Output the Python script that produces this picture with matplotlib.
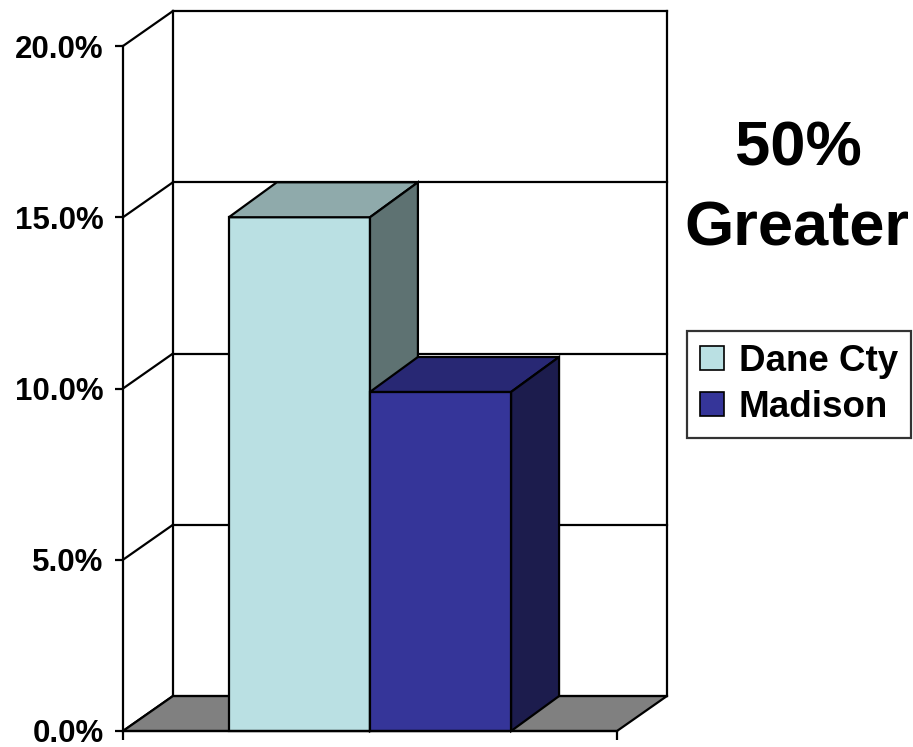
import matplotlib
matplotlib.use("Agg")
import matplotlib.pyplot as plt
from matplotlib.patches import Polygon, Patch

# ========== data ==========
series = ["Dane Cty", "Madison"]
values = [15.0, 9.9]            # percent
yticks = [0, 5, 10, 15, 20]
front_colors = ["#BAE0E3", "#353599"]
top_colors = ["#8FAAAB", "#282874"]
side_colors = ["#5E7272", "#1C1C4D"]
floor_color = "#808080"

plt.rcParams['font.family'] = ['Liberation Sans', 'DejaVu Sans']
plt.rcParams['font.weight'] = 'bold'

fig = plt.figure(figsize=(9.13, 7.47), dpi=100)
ax = fig.add_axes([123 / 913, 16 / 747, 494 / 913, 685 / 747])
ax.set_xlim(0, 1)
ax.set_ylim(0, 20)

lw = 1.6
# depth offset of the 3-D box, in data units
dx, dy = 0.101, 1.02
bdx = 0.097   # bar depth (x)

# back wall grid + left wall diagonals
for t in yticks:
    ax.plot([dx, 1 + dx], [t + dy, t + dy], color="black", lw=lw, zorder=1, clip_on=False)
    ax.plot([0, dx], [t, t + dy], color="black", lw=lw, zorder=1, clip_on=False)
ax.plot([dx, dx], [dy, yticks[-1] + dy], color="black", lw=lw, zorder=1, clip_on=False)
ax.plot([1 + dx, 1 + dx], [dy, yticks[-1] + dy], color="black", lw=lw, zorder=1, clip_on=False)

# floor
ax.add_patch(Polygon([(0, 0), (1, 0), (1 + dx, dy), (dx, dy)], closed=True,
                     facecolor=floor_color, edgecolor="black", lw=lw, zorder=2, clip_on=False))

# bars: one category centred at 0.5, gap width 150%
n = len(values)
w = 1.0 / (n + 1.5)
x0 = 0.5 - n * w / 2
for i, v in enumerate(values):
    xl = x0 + i * w
    xr = xl + w
    kw = dict(closed=True, edgecolor="black", lw=lw, zorder=3 + i, clip_on=False)
    ax.add_patch(Polygon([(xl, 0), (xr, 0), (xr, v), (xl, v)], facecolor=front_colors[i], **kw))
    ax.add_patch(Polygon([(xl, v), (xr, v), (xr + bdx, v + dy), (xl + bdx, v + dy)],
                         facecolor=top_colors[i], **kw))
    ax.add_patch(Polygon([(xr, 0), (xr + bdx, dy), (xr + bdx, v + dy), (xr, v)],
                         facecolor=side_colors[i], **kw))

# axes styling
for s in ["top", "right"]:
    ax.spines[s].set_visible(False)
for s in ["left", "bottom"]:
    ax.spines[s].set_linewidth(lw)
    ax.spines[s].set_zorder(6)
ax.set_yticks(yticks)
ax.set_yticklabels([f"{t:.1f}%" for t in yticks], fontsize=22.5, fontweight="bold")
ax.set_xticks([0, 1])
ax.set_xticklabels(["", ""])
ax.tick_params(axis="y", direction="out", length=6, width=lw, pad=8)
ax.tick_params(axis="x", direction="out", length=6.5, width=lw)
ax.patch.set_visible(False)

# annotation
fig.text(798 / 913, 1 - 165 / 747, "50%", ha="center", va="baseline",
         fontsize=45.5, fontweight="bold")
fig.text(797 / 913, 1 - 245 / 747, "Greater", ha="center", va="baseline",
         fontsize=45.5, fontweight="bold")

# legend
handles = [Patch(facecolor=c, edgecolor="black", lw=1.2) for c in front_colors]
leg = fig.legend(handles, series, loc="upper left", bbox_to_anchor=(687 / 913, 1 - 331 / 747),
                 borderaxespad=0, frameon=True, fancybox=False,
                 prop=dict(weight="bold", size=26.5), handlelength=0.65, handleheight=0.65,
                 handletextpad=0.4, labelspacing=0.3, borderpad=0.35)
leg.get_frame().set_edgecolor("black")
leg.get_frame().set_linewidth(lw)

fig.savefig("out.png", dpi=100)
